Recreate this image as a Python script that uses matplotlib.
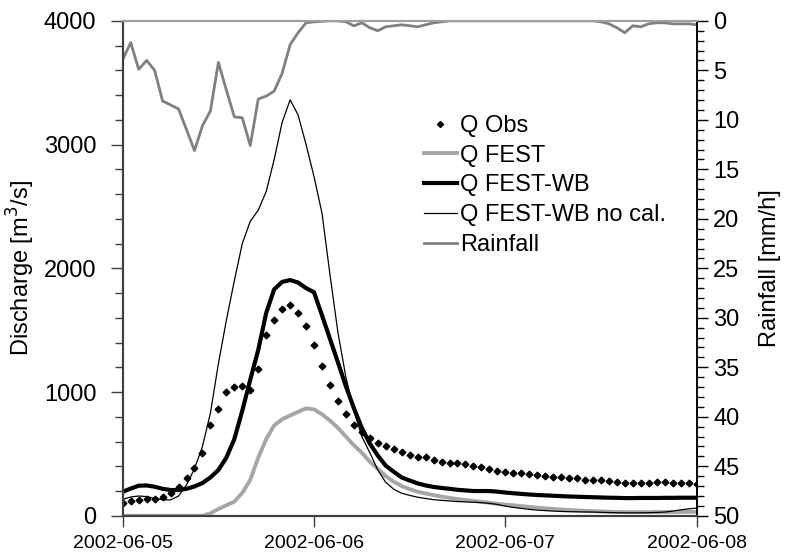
import numpy as np
import pandas as pd
import matplotlib
matplotlib.use("Agg")
import matplotlib.pyplot as plt
import matplotlib.dates as mdates
from matplotlib.ticker import MultipleLocator

plt.rcParams['font.family'] = ['Liberation Sans', 'DejaVu Sans']

# hourly values, 2002-06-05 00:00 .. 2002-06-08 00:00
times = pd.date_range('2002-06-05', periods=73, freq='h')

q_obs = [105, 119, 127, 132, 138, 149, 181, 229, 302, 383, 510, 733, 860, 998, 1043, 1051,
         1016, 1185, 1461, 1582, 1674, 1701, 1637, 1534, 1378, 1207, 1057, 930, 821, 737,
         678, 630, 591, 565, 539, 516, 493, 475, 472, 450, 437, 424, 424, 417, 402, 391,
         380, 364, 356, 348, 343, 337, 329, 321, 315, 310, 307, 302, 291, 291, 286, 283,
         272, 264, 264, 264, 264, 270, 270, 267, 264, 264, 259]

q_fest = [0, 0, 0, 0, 0, 0, 0, 0, 0, 0, 0, 20, 55, 85, 115, 185, 290, 470, 620, 730, 780,
          810, 840, 868, 860, 820, 770, 710, 640, 570, 510, 437, 380, 320, 275, 240, 215,
          194, 180, 167, 155, 145, 135, 127, 120, 113, 105, 97, 90, 85, 78, 72, 66, 60, 55,
          51, 47, 43, 40, 37, 35, 33, 31, 30, 30, 30, 30, 30, 30, 30, 31, 31, 32]

q_fest_wb = [194, 220, 243, 245, 235, 218, 208, 208, 218, 237, 265, 310, 370, 470, 620, 850,
             1100, 1340, 1640, 1830, 1890, 1905, 1885, 1840, 1806, 1620, 1430, 1240, 1046,
             870, 710, 583, 487, 405, 356, 310, 285, 262, 245, 233, 225, 218, 210, 205, 200,
             200, 200, 195, 188, 182, 177, 172, 168, 165, 162, 159, 156, 154, 152, 150, 148,
             146, 145, 143, 143, 144, 144, 144, 145, 145, 146, 146, 146]

q_fest_wb_nocal = [133, 152, 160, 155, 140, 130, 128, 160, 250, 380, 560, 830, 1230, 1580,
                   1900, 2200, 2380, 2470, 2620, 2880, 3180, 3361, 3240, 3000, 2741, 2445,
                   1950, 1480, 1120, 850, 640, 510, 370, 270, 215, 182, 165, 150, 140, 130,
                   125, 120, 115, 112, 110, 106, 100, 92, 78, 68, 60, 52, 46, 42, 38, 35, 33,
                   32, 31, 30, 28, 26, 25, 24, 24, 24, 25, 27, 30, 38, 48, 56, 62]

rain = [3.9, 2.2, 4.9, 4.0, 5.0, 8.1, 8.5, 8.9, 11.0, 13.1, 10.6, 9.1, 4.2, 7.0, 9.7, 9.8,
        12.6, 7.9, 7.6, 7.1, 5.3, 2.4, 1.2, 0.2, 0.1, 0.05, 0.0, 0.0, 0.1, 0.5, 0.2, 0.7,
        1.0, 0.6, 0.5, 0.4, 0.5, 0.6, 0.4, 0.2, 0.1, 0, 0, 0, 0, 0, 0, 0, 0, 0, 0, 0, 0,
        0, 0, 0, 0, 0, 0, 0, 0.1, 0.3, 0.7, 1.2, 0.5, 0.6, 0.3, 0.2, 0.2, 0.3, 0.3, 0.3, 0.4]

fig = plt.figure(figsize=(7.92, 5.57), dpi=100)
ax1 = fig.add_axes([0.155, 0.074, 0.7245, 0.8886])
ax2 = ax1.twinx()

l_obs, = ax1.plot(times, q_obs, linestyle='none', marker='D', markersize=3.4,
                  color='black', label='Q Obs')
l_fest, = ax1.plot(times, q_fest, color='#a6a6a6', lw=2.8, label='Q FEST')
l_wb, = ax1.plot(times, q_fest_wb, color='black', lw=3.0, label='Q FEST-WB')
l_nc, = ax1.plot(times, q_fest_wb_nocal, color='black', lw=0.9, label='Q FEST-WB no cal.')
l_rain, = ax2.plot(times, rain, color='#808080', lw=2.0, label='Rainfall')

ax1.set_xlim(times[0], times[-1])
ax1.set_ylim(0, 4000)
ax2.set_ylim(50, 0)

ax1.yaxis.set_major_locator(MultipleLocator(1000))
ax1.yaxis.set_minor_locator(MultipleLocator(200))
ax2.yaxis.set_major_locator(MultipleLocator(5))
ax2.yaxis.set_minor_locator(MultipleLocator(1))
ax1.xaxis.set_major_locator(mdates.DayLocator())
ax1.xaxis.set_major_formatter(mdates.DateFormatter('%Y-%m-%d'))

dark = '#404040'
ax1.tick_params(axis='y', which='major', direction='out', length=9, width=1,
                color=dark, labelsize=17, pad=10)
ax1.tick_params(axis='y', which='minor', direction='out', length=6, width=1, color=dark)
ax1.tick_params(axis='x', which='major', direction='out', length=8, width=1,
                color=dark, labelsize=14, pad=6)
ax2.tick_params(axis='y', which='major', direction='out', length=8, width=1,
                color='black', labelsize=17, pad=4)
ax2.tick_params(axis='y', which='minor', direction='out', length=5, width=1, color='black')

for ax in (ax1, ax2):
    ax.spines['top'].set_color('#a0a0a0')
    ax.spines['top'].set_linewidth(1.5)
    ax.spines['left'].set_color(dark)
    ax.spines['left'].set_linewidth(1.5)
    ax.spines['bottom'].set_color(dark)
    ax.spines['bottom'].set_linewidth(1.5)
    ax.spines['right'].set_color('black')
    ax.spines['right'].set_linewidth(1.2)

ax1.set_ylabel('Discharge [m$^3$/s]', fontsize=17, labelpad=5)
ax2.set_ylabel('Rainfall [mm/h]', fontsize=17, labelpad=14)

ax2.legend(handles=[l_obs, l_fest, l_wb, l_nc, l_rain], loc='upper left',
           bbox_to_anchor=(412 / 792, 1 - 103 / 557), bbox_transform=fig.transFigure,
           frameon=False, fontsize=17, handlelength=1.4, handletextpad=0.15,
           labelspacing=0.33, borderpad=0, markerscale=0.9)

fig.savefig('out.png', dpi=100)
